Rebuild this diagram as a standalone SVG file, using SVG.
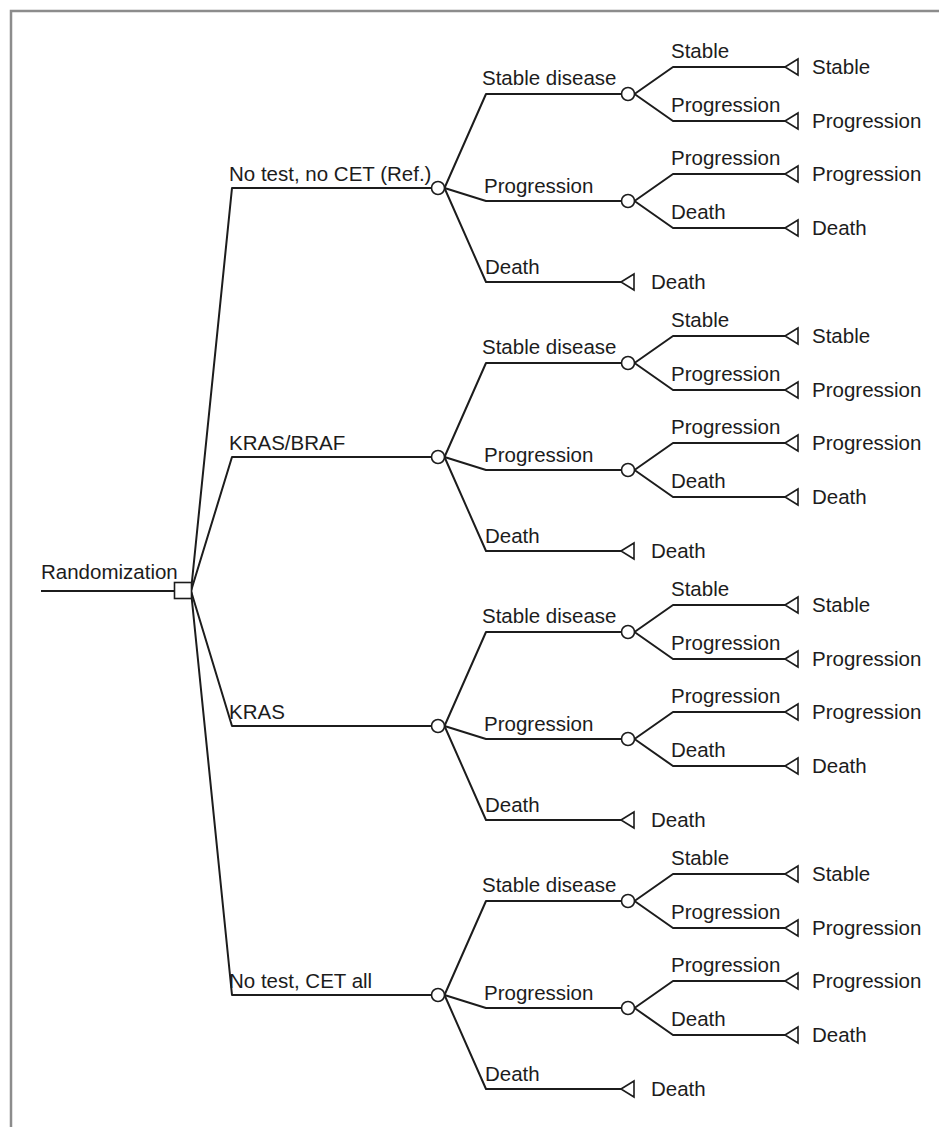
<svg xmlns="http://www.w3.org/2000/svg" width="939" height="1127" viewBox="0 0 939 1127">
<style>
.ln{stroke:#1c1c1c;stroke-width:2;fill:none;stroke-linejoin:round}
.nd{fill:#fff;stroke:#1c1c1c;stroke-width:1.6}
.t{font-family:"Liberation Sans",Arial,sans-serif;font-size:20.5px;fill:#1c1c1c}
.fr{stroke:#8c8c8c;stroke-width:2.5;fill:none}
</style>
<rect width="939" height="1127" fill="#fff"/>
<path class="fr" d="M11,1127 L11,11 L939,11"/>
<g id="connectors">
<path class="ln" d="M41,591 L174,591"/>
<path class="ln" d="M191,591 L232,188 L431.5,188"/>
<path class="ln" d="M191,591 L232,457 L431.5,457"/>
<path class="ln" d="M191,591 L232,726 L431.5,726"/>
<path class="ln" d="M191,591 L232,995 L431.5,995"/>
<!-- block 1 -->
<path class="ln" d="M444.5,188 L486,94 L621,94"/>
<path class="ln" d="M444.5,188 L486,201 L621,201"/>
<path class="ln" d="M444.5,188 L486,282 L621,282"/>
<path class="ln" d="M634.5,94 L673,67 L785,67"/>
<path class="ln" d="M634.5,94 L673,121 L785,121"/>
<path class="ln" d="M634.5,201 L673,174 L785,174"/>
<path class="ln" d="M634.5,201 L673,228 L785,228"/>
<!-- block 2 -->
<path class="ln" d="M444.5,457 L486,363 L621,363"/>
<path class="ln" d="M444.5,457 L486,470 L621,470"/>
<path class="ln" d="M444.5,457 L486,551 L621,551"/>
<path class="ln" d="M634.5,363 L673,336 L785,336"/>
<path class="ln" d="M634.5,363 L673,390 L785,390"/>
<path class="ln" d="M634.5,470 L673,443 L785,443"/>
<path class="ln" d="M634.5,470 L673,497 L785,497"/>
<!-- block 3 -->
<path class="ln" d="M444.5,726 L486,632 L621,632"/>
<path class="ln" d="M444.5,726 L486,739 L621,739"/>
<path class="ln" d="M444.5,726 L486,820 L621,820"/>
<path class="ln" d="M634.5,632 L673,605 L785,605"/>
<path class="ln" d="M634.5,632 L673,659 L785,659"/>
<path class="ln" d="M634.5,739 L673,712 L785,712"/>
<path class="ln" d="M634.5,739 L673,766 L785,766"/>
<!-- block 4 -->
<path class="ln" d="M444.5,995 L486,901 L621,901"/>
<path class="ln" d="M444.5,995 L486,1008 L621,1008"/>
<path class="ln" d="M444.5,995 L486,1089 L621,1089"/>
<path class="ln" d="M634.5,901 L673,874 L785,874"/>
<path class="ln" d="M634.5,901 L673,928 L785,928"/>
<path class="ln" d="M634.5,1008 L673,981 L785,981"/>
<path class="ln" d="M634.5,1008 L673,1035 L785,1035"/>
</g>
<g id="edge-labels">
<text class="t" x="41" y="579">Randomization</text>
<text class="t" x="229" y="181">No test, no CET (Ref.)</text>
<text class="t" x="229" y="450">KRAS/BRAF</text>
<text class="t" x="229" y="719">KRAS</text>
<text class="t" x="229" y="988">No test, CET all</text>
<text class="t" x="482" y="85">Stable disease</text>
<text class="t" x="484" y="193">Progression</text>
<text class="t" x="485" y="274">Death</text>
<text class="t" x="671" y="58">Stable</text>
<text class="t" x="671" y="112">Progression</text>
<text class="t" x="671" y="165">Progression</text>
<text class="t" x="671" y="219">Death</text>
<text class="t" x="482" y="354">Stable disease</text>
<text class="t" x="484" y="462">Progression</text>
<text class="t" x="485" y="543">Death</text>
<text class="t" x="671" y="327">Stable</text>
<text class="t" x="671" y="381">Progression</text>
<text class="t" x="671" y="434">Progression</text>
<text class="t" x="671" y="488">Death</text>
<text class="t" x="482" y="623">Stable disease</text>
<text class="t" x="484" y="731">Progression</text>
<text class="t" x="485" y="812">Death</text>
<text class="t" x="671" y="596">Stable</text>
<text class="t" x="671" y="650">Progression</text>
<text class="t" x="671" y="703">Progression</text>
<text class="t" x="671" y="757">Death</text>
<text class="t" x="482" y="892">Stable disease</text>
<text class="t" x="484" y="1000">Progression</text>
<text class="t" x="485" y="1081">Death</text>
<text class="t" x="671" y="865">Stable</text>
<text class="t" x="671" y="919">Progression</text>
<text class="t" x="671" y="972">Progression</text>
<text class="t" x="671" y="1026">Death</text>
</g>
<g id="n-root"><rect class="nd" x="174.5" y="582.5" width="17" height="16"/></g>
<g id="n-c1"><circle class="nd" cx="438" cy="188" r="6.5"/></g>
<g id="n-c2"><circle class="nd" cx="438" cy="457" r="6.5"/></g>
<g id="n-c3"><circle class="nd" cx="438" cy="726" r="6.5"/></g>
<g id="n-c4"><circle class="nd" cx="438" cy="995" r="6.5"/></g>
<g id="n-c1-sd"><circle class="nd" cx="628" cy="94" r="6.5"/></g>
<g id="n-c1-p"><circle class="nd" cx="628" cy="201" r="6.5"/></g>
<g id="n-c2-sd"><circle class="nd" cx="628" cy="363" r="6.5"/></g>
<g id="n-c2-p"><circle class="nd" cx="628" cy="470" r="6.5"/></g>
<g id="n-c3-sd"><circle class="nd" cx="628" cy="632" r="6.5"/></g>
<g id="n-c3-p"><circle class="nd" cx="628" cy="739" r="6.5"/></g>
<g id="n-c4-sd"><circle class="nd" cx="628" cy="901" r="6.5"/></g>
<g id="n-c4-p"><circle class="nd" cx="628" cy="1008" r="6.5"/></g>
<!-- terminals block 1 -->
<g id="t1-ss"><polygon class="nd" points="785,67 798,59 798,75"/><text class="t" x="812" y="74">Stable</text></g>
<g id="t1-sp"><polygon class="nd" points="785,121 798,113 798,129"/><text class="t" x="812" y="128">Progression</text></g>
<g id="t1-pp"><polygon class="nd" points="785,174 798,166 798,182"/><text class="t" x="812" y="181">Progression</text></g>
<g id="t1-pd"><polygon class="nd" points="785,228 798,220 798,236"/><text class="t" x="812" y="235">Death</text></g>
<g id="t1-d"><polygon class="nd" points="621,282 634,274 634,290"/><text class="t" x="651" y="289">Death</text></g>
<!-- terminals block 2 -->
<g id="t2-ss"><polygon class="nd" points="785,336 798,328 798,344"/><text class="t" x="812" y="343">Stable</text></g>
<g id="t2-sp"><polygon class="nd" points="785,390 798,382 798,398"/><text class="t" x="812" y="397">Progression</text></g>
<g id="t2-pp"><polygon class="nd" points="785,443 798,435 798,451"/><text class="t" x="812" y="450">Progression</text></g>
<g id="t2-pd"><polygon class="nd" points="785,497 798,489 798,505"/><text class="t" x="812" y="504">Death</text></g>
<g id="t2-d"><polygon class="nd" points="621,551 634,543 634,559"/><text class="t" x="651" y="558">Death</text></g>
<!-- terminals block 3 -->
<g id="t3-ss"><polygon class="nd" points="785,605 798,597 798,613"/><text class="t" x="812" y="612">Stable</text></g>
<g id="t3-sp"><polygon class="nd" points="785,659 798,651 798,667"/><text class="t" x="812" y="666">Progression</text></g>
<g id="t3-pp"><polygon class="nd" points="785,712 798,704 798,720"/><text class="t" x="812" y="719">Progression</text></g>
<g id="t3-pd"><polygon class="nd" points="785,766 798,758 798,774"/><text class="t" x="812" y="773">Death</text></g>
<g id="t3-d"><polygon class="nd" points="621,820 634,812 634,828"/><text class="t" x="651" y="827">Death</text></g>
<!-- terminals block 4 -->
<g id="t4-ss"><polygon class="nd" points="785,874 798,866 798,882"/><text class="t" x="812" y="881">Stable</text></g>
<g id="t4-sp"><polygon class="nd" points="785,928 798,920 798,936"/><text class="t" x="812" y="935">Progression</text></g>
<g id="t4-pp"><polygon class="nd" points="785,981 798,973 798,989"/><text class="t" x="812" y="988">Progression</text></g>
<g id="t4-pd"><polygon class="nd" points="785,1035 798,1027 798,1043"/><text class="t" x="812" y="1042">Death</text></g>
<g id="t4-d"><polygon class="nd" points="621,1089 634,1081 634,1097"/><text class="t" x="651" y="1096">Death</text></g>
</svg>
